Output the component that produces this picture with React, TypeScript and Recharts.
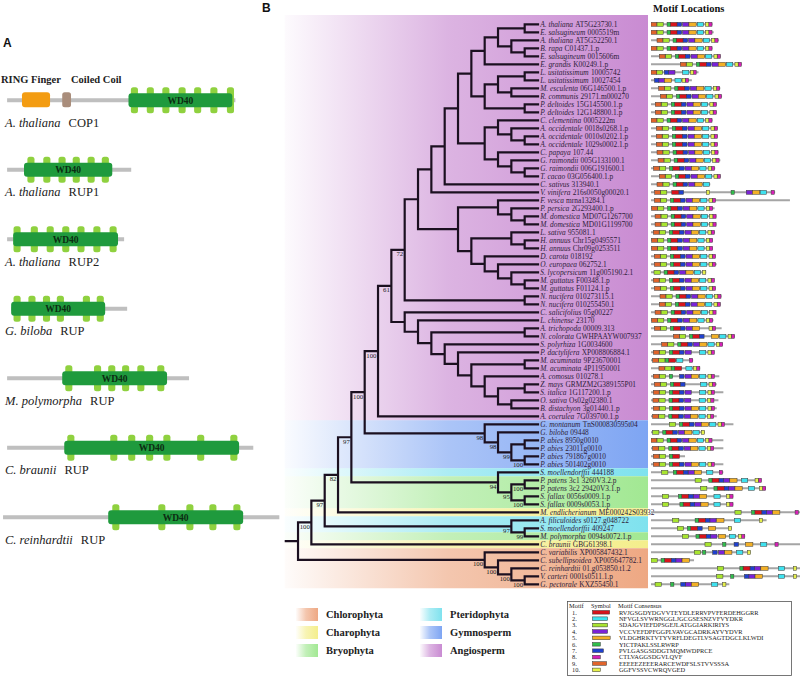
import { Bar, BarChart, ComposedChart, Line, ReferenceArea, Scatter, XAxis, YAxis } from "recharts";

const SERIF = "'Liberation Serif', 'Times New Roman', serif";
const SANS = "'Liberation Sans', Arial, sans-serif";

// ---------------- panel A: domain architecture (positions in aa) ----------------
const DOMAIN_SPECIES = ["A. thaliana", "A. thaliana", "A. thaliana", "G. biloba", "M. polymorpha", "C. braunii", "C. reinhardtii"];
const DOMAIN_GENE = ["COP1", "RUP1", "RUP2", "RUP", "RUP", "RUP", "RUP"];
const PROTEIN_SPAN = [[0, 675], [0, 367], [0, 346], [12, 355], [0, 538], [0, 728], [-12, 805]];
const WD40_SPAN = [[359, 666], [50, 311], [18, 328], [12, 290], [163, 473], [169, 686], [299, 698]];
const BLADE_START = [
  [366, 413, 459, 507, 553, 601, 650],
  [60, 107, 152, 194, 238, 280],
  [19, 70, 117, 163, 208, 255, 303],
  [19, 63, 106, 147, 224, 265],
  [172, 257, 299, 340, 385, 444],
  [178, 305, 358, 411, 462, 562, 660],
  [311, 447, 530, 598, 669],
];
const BLADE_LEN = 21;
const RING_SPAN = [44, 127];
const COIL_SPAN = [163, 189];

// ---------------- panel B: tree ----------------
// leaves are row indices, internal labels are "rank/bootstrap" (rank = columns left of the tips)
const ROSIDS_A = "(((0,1)1,(2,(3,4)1)2)3,5)4";
const ROSIDS_B = "(((6,7)1,(8,9)2)3,(10,11)1)4";
const ROSIDS_C = "((12,(13,(14,15)1)2)3,(16,(17,(18,19)1)2)3)4";
const ASTERIDS = "((22,(23,(24,25)1)2)3,((26,(27,28)1)2,(29,(30,(31,(32,33)1)2)3)4)5)6";
const EUDICOTS = `((((((${ROSIDS_A},${ROSIDS_B})5,${ROSIDS_C})6,20)7,21)8,${ASTERIDS})9,(34,35)1)10/72`;
const MONOCOTS = "(36,(37,((38,39)1,(40,(41,((42,43)1,(44,((45,46)1,(47,48)2)3)4)5)6)7)8)9)10";
const GYMNO = "(50,(51,((52,53)1,(54,55)1/100)2/99)3/98)4/98";
const MOSS = "(56,((57,58)1/100,(59,60)1/100)2/95)3/94";
const FERNS = "(62,(63,64)1/99)2/97";
const ALGAE = "(66,(67,(68,(69,70)1/100)2/100)3/100)4/100";
const TREE = `((((((((${EUDICOTS},${MONOCOTS})11/61,49)12/100,${GYMNO})13/100,${MOSS})14/97,61)15/82,${FERNS})16/97,65)17/100,${ALGAE})18`;
const ROOT_STUB = 19;

const LEAF_SPECIES = [
  "A. thaliana", "E. salsugineum", "A. thaliana", "B. rapa", "E. salsugineum", "E. grandis",
  "L. usitatissimum", "L. usitatissimum", "M. esculenta", "R. communis", "P. deltoides", "P. deltoides",
  "C. clementina", "A. occidentale", "A. occidentale", "A. occidentale", "C. papaya", "G. raimondii",
  "G. raimondii", "T. cacao", "C. sativus", "V. vinifera", "F. vesca", "P. persica",
  "M. domestica", "M. domestica", "L. sativa", "H. annuus", "H. annuus", "D. carota",
  "O. europaea", "S. lycopersicum", "M. guttatus", "M. guttatus", "N. nucifera", "N. nucifera",
  "C. salicifolius", "L. chinense", "A. trichopoda", "N. colorata", "S. polyrhiza", "P. dactylifera",
  "M. acuminata", "M. acuminata", "A. comosus", "Z. mays", "S. italica", "O. sativa",
  "B. distachyon", "A. coerulea", "G. montanum", "G. biloba", "P. abies", "P. abies",
  "P. abies", "P. abies", "S. moellendorffii", "P. patens", "P. patens", "S. fallax",
  "S. fallax", "M. endlicherianum", "A. filiculoides", "S. moellendorffii", "M. polymorpha", "C. braunii",
  "C. variabilis", "C. subellipsoidea", "C. reinhardtii", "V. carteri", "G. pectorale",
];
const LEAF_IDS = [
  "AT5G23730.1", "0005519m", "AT5G52250.1", "C01437.1.p", "0015606m", "K00249.1.p",
  "10005742", "10027454", "06G146500.1.p", "29171.m000270", "15G145500.1.p", "12G148800.1.p",
  "0005222m", "0018s0268.1.p", "0010s0202.1.p", "1029s0002.1.p", "107.44", "005G133100.1",
  "006G191600.1", "03G056400.1.p", "313940.1", "216s0050g00020.1", "mrna13284.1", "2G293400.1.p",
  "MD07G1267700", "MD01G1199700", "955081.1", "Chr15g0495571", "Chr09g0253511", "018192",
  "062752.1", "11g005190.2.1", "F00348.1.p", "F01124.1.p", "010273115.1", "010255450.1",
  "05g00227", "23170", "00009.313", "GWHPAAYW007937", "1G0034600", "XP008806884.1",
  "9P23670001", "4P11950001", "010278.1", "GRMZM2G389155P01", "1G117200.1.p", "Os02g02380.1",
  "3g01440.1.p", "7G039700.1.p", "TnS000830595t04", "09448", "8950g0010", "23011g0010",
  "791867g0010", "501402g0010", "444188", "3c1 3260V3.2.p", "3c2 29420V3.1.p", "0056s0009.1.p",
  "0009s0053.1.p", "ME000242S03932", "s0127.g048722", "409247", "0094s0072.1.p", "GBG61398.1",
  "XP005847432.1", "XP005647782.1", "01.g053850.t1.2", "0001s0511.1.p", "KXZ55450.1",
];

const CLADE_NAMES = ["Angiosperm", "Gymnosperm", "Pteridophyta", "Bryophyta", "Charophyta", "Chlorophyta"];
const CLADE_COLORS = ["#c98bd2", "#7ea5f3", "#7fe2ee", "#a2e893", "#f4ee8c", "#eea883"];
const BAND_CLADE = [0, 1, 2, 3, 4, 2, 3, 4, 5];
const BAND_FROM = [-1.15, 49.5, 55.5, 56.5, 60.5, 61.5, 63.5, 64.5, 65.5];
const BAND_TO = [49.5, 55.5, 56.5, 60.5, 61.5, 63.5, 64.5, 65.5, 70.5];
const BAND_RIGHT = -8.25;
const LEGEND_LEFT = [5, 4, 3];
const LEGEND_RIGHT = [2, 1, 0];

// ---------------- motifs (positions in aa) ----------------
const MOTIF_IDS = [1, 2, 3, 4, 5, 6, 7, 8, 9, 10];
const MOTIF_COLORS = ["#d8141c", "#3fe2ef", "#a8e52f", "#7a22d6", "#f2b027", "#2fbf4b", "#1f40cf", "#d81fb8", "#e0642b", "#e6f04b"];
const MOTIF_LEN = [33, 29, 29, 29, 34, 15, 21, 15, 27, 15];
const MOTIF_SEQ = [
  "RVJGSGDYDGVVTEYDLERRVPVFERDEHGGRR",
  "NFVGLSVWRNGGLJGCGSESNZVFVYDKR",
  "SDAJGVIEFDPSGEJLATGGIARKIRIYS",
  "VCCVEFDPFGGPLVAVGCADRKAYVYDVR",
  "VLDGHRKTVTYVRFLDEGTLVSAGTDGCLKLWDI",
  "YICTPAKLSSLRWRP",
  "PVLGASGSDDGTMQMWDPRCE",
  "CTLVAGGSDGVLQVF",
  "EEEEEZEEERARCEWDFSLSTVVSSSA",
  "GGFVSSVCWRQVGED",
];
// usual motif order and spacing of a plant RUP
const TEMPLATE_MOTIF = [9, 3, 6, 1, 7, 4, 5, 2, 10, 8];
const TEMPLATE_POS = [0, 28, 75, 89, 122, 148, 177, 216, 255, 270];
const ROW_SHIFT: (number | null)[] = [
  0, 0, 28, 0, 39, 137, null, null, 36, 44, 20, 20,
  0, 25, 25, 25, 28, 33, 12, 39, 28, null, 16, 3,
  19, 19, 11, 3, 3, 16, 16, -14, 11, 16, 42, 39,
  19, 3, 16, 105, 50, 11, null, null, 11, 16, 11, 9,
  11, 8, 58, -20, 0, 8, 11, 11, null, null, null, null,
  null, null, null, null, null, null, null, null, null, null, null,
];
const ROW_LEN = [
  288, 293, 318, 288, 326, 424, 222, 191, 324, 332, 308, 308,
  288, 312, 312, 312, 316, 324, 300, 326, 277, 580, 649, 297,
  306, 306, 299, 288, 288, 302, 307, 258, 296, 302, 330, 325,
  304, 292, 330, 392, 336, 296, 197, 230, 319, 307, 338, 315,
  307, 307, 385, 252, 338, 338, 159, 338, 338, 516, 536, 385,
  385, 696, 540, 377, 440, 696, 465, 201, 696, 696, 366,
];
const ROW_MISSING: Record<number, number[]> = {
  20: [10, 8], 31: [9, 8], 38: [2], 39: [4], 41: [5], 44: [1], 45: [4, 5],
  46: [5], 47: [5], 50: [9], 51: [9, 8], 54: [7, 4, 5, 2, 10, 8],
};
const ROW_CUSTOM: Record<number, [number, number][]> = {
  6: [[9, 0], [3, 25], [7, 62], [4, 83], [2, 148], [10, 184], [8, 196]],
  7: [[7, 16], [4, 36], [5, 62], [2, 112], [10, 145], [8, 160]],
  21: [[9, 17], [3, 45], [1, 97], [7, 131], [10, 259], [6, 374], [4, 445], [5, 474], [2, 510], [8, 561]],
  42: [[9, 8], [3, 36], [6, 67], [1, 82], [2, 120], [8, 180]],
  43: [[9, 37], [3, 65], [6, 95], [1, 110], [2, 163], [10, 198], [8, 213]],
  56: [[3, 50], [6, 104], [1, 119], [7, 152], [4, 173], [5, 202], [2, 260], [8, 319]],
  57: [[3, 206], [6, 270], [1, 285], [7, 318], [4, 339], [5, 368], [2, 423], [10, 486], [8, 501]],
  58: [[3, 232], [6, 294], [1, 309], [7, 342], [4, 363], [5, 392], [2, 455], [10, 506], [8, 521]],
  59: [[3, 53], [6, 128], [1, 143], [7, 176], [4, 197], [5, 226], [2, 294], [10, 353], [8, 368]],
  60: [[3, 53], [6, 135], [1, 150], [7, 183], [4, 204], [5, 233], [2, 294], [10, 353], [8, 368]],
  61: [[3, 392], [6, 470], [1, 485], [7, 518], [4, 539], [5, 568], [8, 673]],
  62: [[3, 101], [6, 206], [1, 221], [7, 254], [4, 275], [5, 307], [2, 389], [10, 506]],
  63: [[3, 123], [6, 170], [1, 185], [7, 218], [5, 268], [10, 361]],
  64: [[3, 146], [6, 210], [1, 225], [7, 258], [4, 279], [5, 315], [2, 366], [10, 408], [8, 423]],
  65: [[3, 252], [6, 335], [7, 388], [5, 442], [2, 512], [8, 579]],
  66: [[3, 202], [6, 241], [7, 288], [4, 315], [5, 344], [2, 400], [10, 450]],
  67: [[3, 0], [6, 47], [1, 62], [7, 95], [4, 116], [5, 145]],
  68: [[3, 310], [6, 415], [1, 430], [7, 463], [4, 484], [5, 513], [2, 595], [10, 665]],
  69: [[3, 307], [6, 372], [7, 436], [4, 457], [5, 486], [2, 595], [10, 665]],
  70: [[3, 19], [6, 92], [7, 139], [4, 160], [5, 189], [2, 283], [10, 335]],
};

// ---------------- derived tables ----------------
type TNode = { leaf?: number; rank: number; boot?: number; kids: TNode[]; y: number };

function parseNewick(s: string): TNode {
  let i = 0;
  const label = () => {
    let t = "";
    while (i < s.length && /[0-9/]/.test(s[i])) t += s[i++];
    return t;
  };
  const node = (): TNode => {
    if (s[i] === "(") {
      i++;
      const kids = [node()];
      while (s[i] === ",") {
        i++;
        kids.push(node());
      }
      i++;
      const [r, b] = label().split("/");
      return { rank: Number(r), boot: b ? Number(b) : undefined, kids, y: 0 };
    }
    const leaf = Number(label());
    return { leaf, rank: 0, kids: [], y: leaf };
  };
  return node();
}

function placeY(n: TNode): number {
  if (!n.kids.length) return n.y;
  const ys = n.kids.map(placeY);
  n.y = (ys[0] + ys[ys.length - 1]) / 2;
  return n.y;
}

const root = parseNewick(TREE);
placeY(root);

const branchPts: { x: number; y: number | null }[] = [
  { x: ROOT_STUB, y: root.y },
  { x: root.rank, y: root.y },
  { x: root.rank, y: null },
];
const bootPts: { x: number; y: number; boot: number }[] = [];
(function walk(n: TNode) {
  if (n.boot !== undefined) bootPts.push({ x: n.rank, y: n.y, boot: n.boot });
  for (const k of n.kids) {
    branchPts.push({ x: n.rank, y: n.y }, { x: n.rank, y: k.y }, { x: k.rank, y: k.y }, { x: k.rank, y: null });
    walk(k);
  }
})(root);

const leafPts = LEAF_SPECIES.map((sp, i) => ({ x: 0, y: i, sp, id: LEAF_IDS[i] }));

const motifRows = LEAF_SPECIES.map((_, i) => {
  const row: any = { id: i, line: [0, ROW_LEN[i]] };
  const shift = ROW_SHIFT[i];
  const pairs: [number, number][] =
    shift === null
      ? ROW_CUSTOM[i]
      : TEMPLATE_MOTIF.map((m, k) => [m, TEMPLATE_POS[k] + shift] as [number, number]).filter(
          ([m]) => !(ROW_MISSING[i] || []).includes(m)
        );
  for (const [m, s] of pairs) row[`m${m}`] = [s, s + MOTIF_LEN[m - 1]];
  return row;
});

const domainRows = DOMAIN_SPECIES.map((sp, i) => {
  const row: any = {
    id: i,
    sp,
    gene: DOMAIN_GENE[i],
    line: PROTEIN_SPAN[i],
    wd40: WD40_SPAN[i],
    ring: i === 0 ? RING_SPAN : null,
    coil: i === 0 ? COIL_SPAN : null,
  };
  BLADE_START[i].forEach((s, k) => (row[`b${k}`] = [s, s + BLADE_LEN]));
  return row;
});
const BLADE_KEYS = [0, 1, 2, 3, 4, 5, 6].map((k) => `b${k}`);

// ---------------- shapes ----------------
const empty = <g />;

function DomainPanel() {
  const axisIds = ["line", "wd", "ring", "coil", ...BLADE_KEYS];
  return (
    <BarChart layout="vertical" width={280} height={560} data={domainRows} margin={{ top: 65.25, right: 0, bottom: 8.25, left: 0 }}>
      <XAxis type="number" domain={[-21, 807]} hide allowDataOverflow />
      {axisIds.map((id) => (
        <YAxis key={id} yAxisId={id} type="category" dataKey="id" hide />
      ))}
      <Bar
        yAxisId="line"
        dataKey="line"
        barSize={4}
        isAnimationActive={false}
        shape={(p: any) => (
          <g>
            <rect x={p.x} y={p.y} width={p.width} height={p.height} fill="#bfbfbf" />
            <text x={5} y={p.y + p.height / 2 + 26.5} fontSize={12.5} fontFamily={SERIF} fill="#222">
              <tspan fontStyle="italic">{p.payload.sp}</tspan>
              <tspan dx={8}>{p.payload.gene}</tspan>
            </text>
          </g>
        )}
      />
      {BLADE_KEYS.map((k) => (
        <Bar
          key={k}
          yAxisId={k}
          dataKey={k}
          barSize={26}
          isAnimationActive={false}
          shape={(p: any) =>
            p.payload[k] ? <rect x={p.x} y={p.y} width={p.width} height={p.height} rx={2.5} fill="#8fd13f" /> : empty
          }
        />
      ))}
      <Bar
        yAxisId="wd"
        dataKey="wd40"
        barSize={14}
        isAnimationActive={false}
        shape={(p: any) => (
          <g>
            <rect x={p.x} y={p.y} width={p.width} height={p.height} rx={3} fill="#1f9a3d" />
            <text x={p.x + p.width / 2} y={p.y + p.height / 2 + 3.3} textAnchor="middle" fontSize={9.5} fontWeight="bold" fontFamily={SERIF} fill="#0c2c12">
              WD40
            </text>
          </g>
        )}
      />
      <Bar
        yAxisId="ring"
        dataKey="ring"
        barSize={15}
        isAnimationActive={false}
        shape={(p: any) => (p.payload.ring ? <rect x={p.x} y={p.y} width={p.width} height={p.height} rx={3} fill="#f39c12" /> : empty)}
      />
      <Bar
        yAxisId="coil"
        dataKey="coil"
        barSize={15}
        isAnimationActive={false}
        shape={(p: any) => (p.payload.coil ? <rect x={p.x} y={p.y} width={p.width} height={p.height} rx={2.5} fill="#a98d7b" /> : empty)}
      />
    </BarChart>
  );
}

function TreePanel() {
  // plot area runs to the right page edge so the longest tip labels are not clipped
  return (
    <ComposedChart width={530} height={676} margin={{ top: 20.3, right: 2, bottom: 87.7, left: 14.7 }}>
      <XAxis type="number" dataKey="x" domain={[-19.5, 19]} reversed hide allowDataOverflow />
      <YAxis type="number" dataKey="y" domain={[-0.5, 70.5]} reversed hide allowDataOverflow />
      {BAND_CLADE.map((c, i) => (
        <ReferenceArea
          key={i}
          x1={BAND_RIGHT}
          x2={ROOT_STUB}
          y1={BAND_FROM[i]}
          y2={BAND_TO[i]}
          fill={`url(#clade${c})`}
          fillOpacity={1}
          stroke="none"
          ifOverflow="visible"
        />
      ))}
      <Line
        data={branchPts}
        dataKey="y"
        stroke="#1b1020"
        strokeWidth={2.2}
        strokeLinecap="square"
        strokeLinejoin="miter"
        dot={false}
        activeDot={false}
        connectNulls={false}
        isAnimationActive={false}
      />
      <Scatter
        data={leafPts}
        isAnimationActive={false}
        shape={(p: any) => (
          <text x={p.cx + 2.2} y={p.cy + 2.6} fontSize={7.4} fontFamily={SERIF} fill="#2e1d3a">
            <tspan fontStyle="italic">{p.payload.sp}</tspan>
            <tspan dx={2.2}>{p.payload.id}</tspan>
          </text>
        )}
      />
      <Scatter
        data={bootPts}
        isAnimationActive={false}
        shape={(p: any) => (
          <text x={p.cx - 1.5} y={p.cy + 6.6} textAnchor="end" fontSize={6.8} fontFamily={SERIF} fill="#222">
            {p.payload.boot}
          </text>
        )}
      />
    </ComposedChart>
  );
}

function MotifPanel() {
  return (
    <BarChart layout="vertical" width={149} height={676} data={motifRows} margin={{ top: 20.3, right: 0, bottom: 87.7, left: 0 }}>
      <XAxis type="number" domain={[0, 696]} hide allowDataOverflow />
      <YAxis yAxisId="line" type="category" dataKey="id" hide />
      {MOTIF_IDS.map((m) => (
        <YAxis key={m} yAxisId={`m${m}`} type="category" dataKey="id" hide />
      ))}
      <Bar yAxisId="line" dataKey="line" barSize={2} fill="#a5a5a5" isAnimationActive={false} />
      {MOTIF_IDS.map((m) => (
        <Bar
          key={m}
          yAxisId={`m${m}`}
          dataKey={`m${m}`}
          barSize={4}
          isAnimationActive={false}
          shape={(p: any) =>
            p.payload[`m${m}`] ? (
              <rect x={p.x} y={p.y} width={p.width} height={p.height} fill={MOTIF_COLORS[m - 1]} stroke="#3a3a3a" strokeWidth={0.5} />
            ) : (
              empty
            )
          }
        />
      ))}
    </BarChart>
  );
}

function Annotations() {
  return (
    <svg width={800} height={676} style={{ position: "absolute", left: 0, top: 0, pointerEvents: "none" }}>
      <text x={3} y={47} fontSize={12} fontWeight="bold" fontFamily={SANS} fill="#111">A</text>
      <text x={262} y={11.5} fontSize={12} fontWeight="bold" fontFamily={SANS} fill="#111">B</text>
      <text x={1} y={83} fontSize={10.5} fontWeight="bold" fontFamily={SERIF} fill="#222">RING Finger</text>
      <text x={71} y={83} fontSize={10.5} fontWeight="bold" fontFamily={SERIF} fill="#222">Coiled Coil</text>
      <text x={653} y={12} fontSize={10.5} fontWeight="bold" fontFamily={SERIF} fill="#111">Motif Locations</text>

      {[LEGEND_LEFT, LEGEND_RIGHT].map((col, ci) =>
        col.map((c, ri) => (
          <g key={`${ci}-${ri}`}>
            <rect x={296 + ci * 124} y={608 + ri * 18} width={22} height={13} fill={`url(#clade${c})`} />
            <text x={326 + ci * 124} y={618 + ri * 18} fontSize={10.5} fontWeight="bold" fontFamily={SERIF} fill="#222">
              {CLADE_NAMES[c]}
            </text>
          </g>
        ))
      )}

      <g transform="translate(567,601)" fontFamily={SERIF} fill="#222" fontSize={6.4}>
        <rect x={0.5} y={0.5} width={224} height={74} fill="#fff" stroke="#555" strokeWidth={0.8} />
        <text x={2} y={6.6}>Motif</text>
        <text x={24} y={6.6}>Symbol</text>
        <text x={51} y={6.6}>Motif Consensus</text>
        {MOTIF_IDS.map((m, i) => (
          <g key={m}>
            <text x={5} y={13.5 + i * 6.4}>{`${m}.`}</text>
            <rect x={25.5} y={9.5 + i * 6.4} width={MOTIF_LEN[i] * 0.52} height={3.6} fill={MOTIF_COLORS[i]} stroke="#333" strokeWidth={0.5} />
            <text x={52} y={13.5 + i * 6.4}>{MOTIF_SEQ[i]}</text>
          </g>
        ))}
      </g>
    </svg>
  );
}

export default function App() {
  return (
    <div style={{ position: "absolute", left: 0, top: 0, width: 800, height: 676, background: "#fff", overflow: "hidden" }}>
      <svg width={0} height={0} style={{ position: "absolute" }}>
        <defs>
          {CLADE_COLORS.map((c, i) => (
            <linearGradient key={i} id={`clade${i}`} x1="0" y1="0" x2="1" y2="0">
              <stop offset="0" stopColor={c} stopOpacity={0.04} />
              <stop offset="0.45" stopColor={c} stopOpacity={0.65} />
              <stop offset="1" stopColor={c} stopOpacity={1} />
            </linearGradient>
          ))}
        </defs>
      </svg>
      <div style={{ position: "absolute", left: 0, top: 0 }}>
        <DomainPanel />
      </div>
      <div style={{ position: "absolute", left: 270, top: 0 }}>
        <TreePanel />
      </div>
      <div style={{ position: "absolute", left: 651, top: 0 }}>
        <MotifPanel />
      </div>
      <Annotations />
    </div>
  );
}
